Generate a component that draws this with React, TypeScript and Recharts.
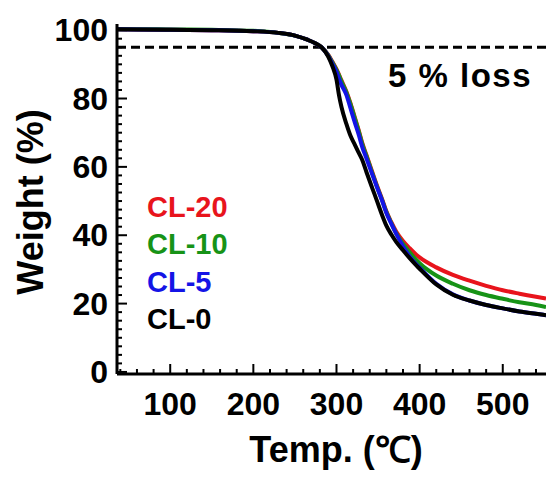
import React from 'react';
import { LineChart, Line, XAxis, YAxis, ReferenceLine, Customized } from 'recharts';

const temps = [36, 60, 100, 150, 200, 230, 250, 265, 275, 282, 290, 295, 300, 303, 306, 312, 317, 322, 327, 331, 336, 343, 348, 355, 360, 366, 372, 380, 388, 396, 400, 420, 440, 460, 480, 500, 520, 540, 552];

const cl0 = [100.3, 100.2, 100.1, 100.0, 99.7, 99.2, 98.4, 97.2, 96.1, 95.0, 92.3, 89.5, 85.5, 81, 77.5, 72.5, 69, 66.5, 64, 62, 58.5, 53.8, 50.5, 45.8, 42.8, 40.2, 38.0, 35.6, 33.3, 31.2, 30.2, 25.6, 22.6, 20.9, 19.6, 18.6, 17.7, 17.0, 16.6];
const cl5 = [100.3, 100.2, 100.1, 100.0, 99.7, 99.2, 98.4, 97.2, 96.1, 95.0, 92.5, 90.2, 87.8, 85.8, 84, 81, 77, 73, 69.2, 65.8, 62.5, 57.8, 54.5, 50, 46.5, 43.3, 40.3, 36.8, 33.8, 31.5, 30.5, 25.8, 22.7, 20.9, 19.6, 18.6, 17.7, 17.0, 16.6];
const cl10 = [100.3, 100.3, 100.2, 100.1, 99.8, 99.2, 98.4, 97.2, 96.1, 95.0, 92.7, 90.6, 88.4, 86.8, 85, 81.7, 78.2, 74.2, 70.2, 66.7, 63.2, 58.2, 54.7, 50.2, 46.8, 43.5, 40.5, 37.5, 35, 32.8, 31.8, 28.2, 25.8, 23.9, 22.5, 21.4, 20.4, 19.6, 19.0];
const cl20 = [100.3, 100.2, 100.1, 100.0, 99.7, 99.2, 98.4, 97.2, 96.1, 95.0, 92.8, 90.8, 88.6, 87, 85.3, 82, 78.5, 74.5, 70.5, 67, 63.5, 58.5, 55, 50.5, 47, 43.8, 41, 38.3, 36.2, 34.3, 33.5, 30.6, 28.4, 26.7, 25.2, 23.9, 22.9, 22.0, 21.5];

const xTicks = [40, 60, 80, 100, 120, 140, 160, 180, 200, 220, 240, 260, 280, 300, 320, 340, 360, 380, 400, 420, 440, 460, 480, 500, 520, 540];
const yTicks = Array.from({ length: 41 }, (_, i) => i * 2.5);

const legendItems = [
  { name: 'CL-20', color: '#e8141c' },
  { name: 'CL-10', color: '#179317' },
  { name: 'CL-5', color: '#1414e6' },
  { name: 'CL-0', color: '#000000' },
];

const data = temps.map((t, i) => ({ T: t, cl0: cl0[i], cl5: cl5[i], cl10: cl10[i], cl20: cl20[i] }));

const FONT = '"Liberation Sans", Arial, sans-serif';

const XTick = (props: any) => {
  const { x, y, payload } = props;
  const v = payload.value;
  const major = Math.abs(v % 100) < 1e-6;
  return (
    <g>
      <line x1={x} y1={y} x2={x} y2={y - (major ? 10 : 5)} stroke="#000" strokeWidth={2} />
      {major && (
        <text x={x} y={y + 41} textAnchor="middle" fontFamily={FONT} fontWeight="bold" fontSize={32} fill="#000">
          {v}
        </text>
      )}
    </g>
  );
};

const YTick = (props: any) => {
  const { x, y, payload } = props;
  const v = payload.value;
  const major = Math.abs(v % 20) < 1e-6;
  return (
    <g>
      <line x1={x} y1={y} x2={x + (major ? 10 : 5)} y2={y} stroke="#000" strokeWidth={2} />
      {major && (
        <text x={x - 9} y={y + 11} textAnchor="end" fontFamily={FONT} fontWeight="bold" fontSize={32} fill="#000">
          {v}
        </text>
      )}
    </g>
  );
};

const Overlay = () => (
  <g>
    {legendItems.map((it, i) => (
      <text key={it.name} x={147} y={217 + i * 37.3} fontFamily={FONT} fontWeight="bold" fontSize={29} fill={it.color}>
        {it.name}
      </text>
    ))}
    <text x={388} y={87} fontFamily={FONT} fontWeight="bold" fontSize={33} letterSpacing={1.5} fill="#000">
      5 % loss
    </text>
    <text x={336} y={462} textAnchor="middle" fontFamily={FONT} fontWeight="bold" fontSize={36} fill="#000">
      Temp. (℃)
    </text>
    <text x={43} y={202} transform="rotate(-90 43 202)" textAnchor="middle" fontFamily={FONT} fontWeight="bold" fontSize={36} fill="#000">
      Weight (%)
    </text>
  </g>
);

export default function App() {
  return (
    <div style={{ position: 'absolute', left: 0, top: 0, background: '#fff' }}>
      <LineChart width={547} height={477} data={data} margin={{ top: 24, right: 1, bottom: 0, left: 0 }}>
        <XAxis
          dataKey="T"
          type="number"
          domain={[36, 552]}
          ticks={xTicks}
          allowDataOverflow
          height={103}
          tickSize={0}
          tickMargin={0}
          tickLine={false}
          tick={<XTick />}
          axisLine={{ stroke: '#000', strokeWidth: 3 }}
          interval={0}
        />
        <XAxis
          xAxisId="top"
          orientation="top"
          dataKey="T"
          type="number"
          domain={[36, 552]}
          height={0}
          tick={false}
          tickLine={false}
          axisLine={{ stroke: '#000', strokeWidth: 3 }}
        />
        <YAxis
          type="number"
          domain={[-0.6, 101.8]}
          ticks={yTicks}
          allowDataOverflow
          width={117}
          tickSize={0}
          tickMargin={0}
          tickLine={false}
          tick={<YTick />}
          axisLine={{ stroke: '#000', strokeWidth: 3 }}
          interval={0}
        />
        <YAxis
          yAxisId="right"
          orientation="right"
          type="number"
          domain={[-0.6, 101.8]}
          width={0}
          tick={false}
          tickLine={false}
          axisLine={{ stroke: '#000', strokeWidth: 3 }}
        />
        <ReferenceLine y={95} stroke="#000" strokeWidth={3} strokeDasharray="9 5" />
        <Line type="monotone" dataKey="cl20" stroke="#e8141c" strokeWidth={4} dot={false} isAnimationActive={false} />
        <Line type="monotone" dataKey="cl10" stroke="#179317" strokeWidth={4} dot={false} isAnimationActive={false} />
        <Line type="monotone" dataKey="cl5" stroke="#1414e6" strokeWidth={4} dot={false} isAnimationActive={false} />
        <Line type="monotone" dataKey="cl0" stroke="#000000" strokeWidth={4} dot={false} isAnimationActive={false} />
        <Customized component={Overlay} />
      </LineChart>
    </div>
  );
}
